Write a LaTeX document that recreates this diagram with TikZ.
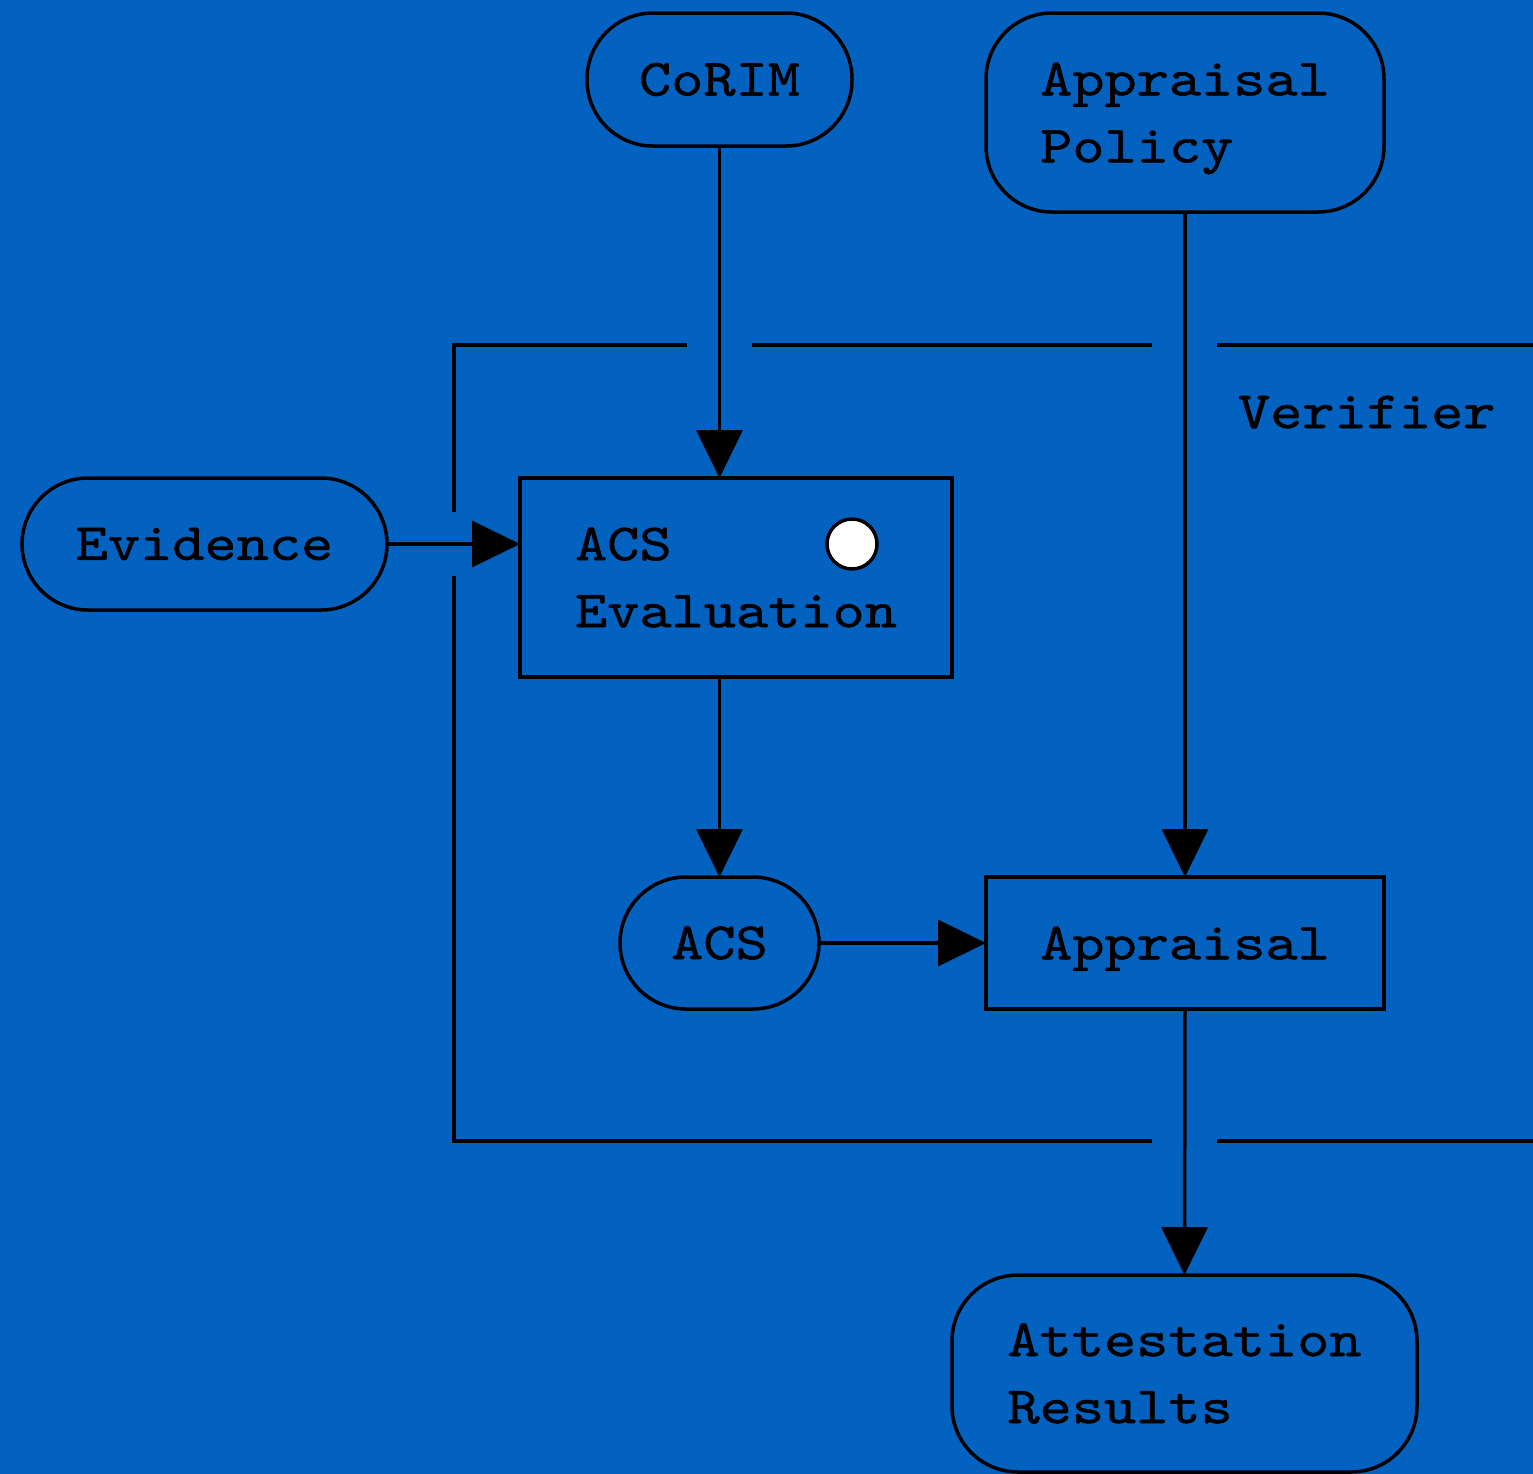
\documentclass[tikz,border=0pt]{standalone}
\usepackage{fontspec}
\newfontfamily\courlike{lmmono10-regular}[Extension=.otf, FakeStretch=1.17, FakeBold=1]
\usetikzlibrary{arrows.meta}
\definecolor{bgblue}{RGB}{3,98,192}
\begin{document}
\begin{tikzpicture}[x=0.5pt,y=-0.5pt,
  every node/.style={line width=1.75pt, draw=black, inner sep=0pt, outer sep=0pt,
    font=\courlike\fontsize{26.2}{33.5}\selectfont, align=left},
  pill/.style={rounded corners=33pt},
  boxnode/.style={},
  flow/.style={line width=1.75pt, -{Triangle[length=24pt,width=23pt]}},
  frame/.style={line width=1.75pt},
  label/.style={draw=none}]
\useasboundingbox (0,0) rectangle (1533,1474);
\fill[bgblue] (0,0) rectangle (1533,1474);

\node[pill, minimum width=132.5pt, minimum height=66.5pt] (corim) at (719.5,79.5) {CoRIM};
\node[pill, minimum width=199pt, minimum height=99.5pt, text depth=0pt] (policy) at (1185,112.5) {Appraisal\\Policy};
\node[pill, minimum width=182.5pt, minimum height=66pt] (evidence) at (204.5,544) {Evidence};
\node[boxnode, minimum width=216pt, minimum height=99.5pt] (eval) at (736,577.5) {ACS\\Evaluation};
\node[pill, minimum width=99.5pt, minimum height=66pt] (acs) at (719.5,943) {ACS};
\node[boxnode, minimum width=199pt, minimum height=66pt, text depth=0pt] (appraisal) at (1185,943) {Appraisal};
\node[pill, minimum width=232.5pt, minimum height=98.5pt] (results) at (1184.5,1373.5) {Attestation\\Results};
\node[circle, fill=white, minimum size=25pt] (dot) at (852,544) {};
\node[label, anchor=base west] (verifier) at (1238,428) {Verifier};

% verifier frame
\coordinate (f1) at (454,512);
\coordinate (f2) at (454,345);
\coordinate (f3) at (687,345);
\coordinate (f4) at (752,345);
\coordinate (f5) at (1152,345);
\coordinate (f6) at (1217,345);
\coordinate (f7) at (1533,345);
\coordinate (g1) at (454,576);
\coordinate (g2) at (454,1141);
\coordinate (g3) at (1152,1141);
\coordinate (g4) at (1217,1141);
\coordinate (g5) at (1533,1141);
\draw[frame] (f1) -- (f2) -- (f3);
\draw[frame] (f4) -- (f5);
\draw[frame] (f6) -- (f7);
\draw[frame] (g1) -- (g2) -- (g3);
\draw[frame] (g4) -- (g5);

% connectors
\draw[flow] (corim.south) -- (corim.south |- eval.north);
\draw[flow] (evidence.east) -- (evidence.east -| eval.west);
\draw[flow] (acs.north |- eval.south) -- (acs.north);
\draw[flow] (acs.east) -- (appraisal.west);
\draw[flow] (policy.south) -- (appraisal.north);
\draw[flow] (appraisal.south) -- (results.north);
\end{tikzpicture}
\end{document}
